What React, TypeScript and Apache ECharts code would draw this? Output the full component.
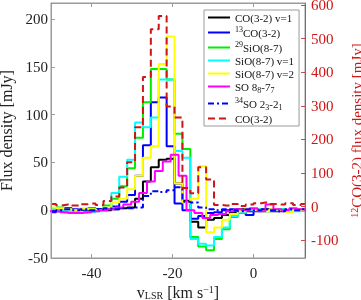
import React, { useEffect, useRef } from 'react';
import * as echarts from 'echarts';

// channel centres (km/s)
const velocity = [
  -49.73, -47.78, -45.83, -43.88, -41.93, -39.98, -38.03, -36.08, -34.13, -32.18, -30.23,
  -28.28, -26.33, -24.38, -22.43, -20.48, -18.53, -16.58, -14.63, -12.68, -10.73, -8.78,
  -6.83, -4.88, -2.93, -0.98, 0.98, 2.93, 4.88, 6.83, 8.78, 10.73, 12.68,
];
// SO 8_8-7_7 channel centres (shifted grid)
const velocitySO = [
  -50.68, -48.73, -46.78, -44.83, -42.88, -40.93, -38.98, -37.03, -35.08, -33.13, -31.18,
  -29.23, -27.28, -25.33, -23.38, -21.43, -19.48, -17.53, -15.58, -13.63, -11.68, -9.73,
  -7.78, -5.83, -3.88, -1.93, 0.03, 1.98, 3.93, 5.88, 7.83, 9.78, 11.73, 13.68,
];

const coV1 = [2, 1, 2, 0, 1, 0, 1, 0, 1, 2, 3, 12, 30, 45, 53, 54, 28, 10, -12, -18, -10, -8, -5, -2, 1, -1, 0, 1, -1, 1, 0, 1, 0];
const co13 = [-2, -1, -2, 1, 0, 2, 1, 2, 4, 9, 16, 36, 68, 113, 118, 67, 7, 0, -9, -6, -3, -2, 0, 1, -3, -5, -1, 0, 1, -1, 0, 1, 0];
const sio29 = [2, 3, 1, 0, 1, 2, 0, 5, 12, 25, 44, 76, 113, 148, 148, 137, 80, 64, -28, -38, -42, -30, -20, -7, -3, 0, 1, -1, 0, 1, -1, 0, 1];
const sioV1 = [1, 0, -1, -2, -3, -2, -1, 3, 18, 35, 53, 92, 87, 97, 137, 137, 62, 55, -30, -35, -37, -28, -18, -6, -2, 0, 1, -1, 0, 1, 0, -1, 1];
const sioV2 = [3, 2, 1, 0, 2, 1, 0, 3, 8, 12, 22, 36, 55, 67, 153, 182, 28, 8, 12, 46, -23, -18, -10, -4, -1, 2, 0, -1, 1, 0, -2, 1, 0];
const so88 = [-1, -1, -2, -3, -3, -2, -1, 0, 1, 3, 6, 9, 18, 30, 41, 51, 58, 36, 0, -3, -8, -5, -4, -1, 1, 0, 2, -1, 6, 1, 0, 2, 1, 0];
const so34 = [-1, 0, 1, 0, 1, 0, 1, 2, 1, 2, 2, 3, 15, 20, 19, 21, 24, 9, 8, 3, 1, 0, 1, 0, -1, 1, 0, 1, 0, -1, 1, 0, 1];
const co32 = [8, 4, 6, 3, 7, 9, 5, 17, 30, 57, 132, 236, 386, 528, 567, 298, 265, 55, 40, 117, 81, 5, 3, 8, 2, 6, 10, 12, 8, 6, 10, 5, 8];

const xTicks = [-40, -20, 0];
const leftTicks = [-50, 0, 50, 100, 150, 200];
const rightTicks = [-100, 0, 100, 200, 300, 400, 500, 600];

const seriesNames = [
  'CO(3-2) v=1',
  '13CO(3-2)',
  '29SiO(8-7)',
  'SiO(8-7) v=1',
  'SiO(8-7) v=2',
  'SO 8_8-7_7',
  '34SO 2_3-2_1',
  'CO(3-2)',
];
const legendLabels: Record<string, string> = {
  'CO(3-2) v=1': '{n|CO(3-2) v=1}',
  '13CO(3-2)': '{sup|13}{n|CO(3-2)}',
  '29SiO(8-7)': '{sup|29}{n|SiO(8-7)}',
  'SiO(8-7) v=1': '{n|SiO(8-7) v=1}',
  'SiO(8-7) v=2': '{n|SiO(8-7) v=2}',
  'SO 8_8-7_7': '{n|SO 8}{sub|8}{n|-7}{sub|7}',
  '34SO 2_3-2_1': '{sup|34}{n|SO 2}{sub|3}{n|-2}{sub|1}',
  'CO(3-2)': '{n|CO(3-2)}',
};

const FONT = 'Liberation Serif, Times New Roman, serif';
const GRAY = '#9a9a9a';
const RED = '#d01515';
const RED_AXIS = '#cc4a4a';

function pairs(xs: number[], ys: number[]) {
  return ys.map((y, i) => [xs[i], y]);
}

function lineSeries(name: string, xs: number[], ys: number[], color: string, type: any, yAxisIndex = 0) {
  return {
    name,
    type: 'line',
    step: 'middle',
    symbol: 'none',
    showSymbol: false,
    yAxisIndex,
    color,
    itemStyle: { color, opacity: 0 },
    lineStyle: { color, width: 2, type, opacity: 1 },
    data: pairs(xs, ys),
  };
}

export default function App() {
  const ref = useRef<HTMLDivElement>(null);
  useEffect(() => {
    const chart = echarts.init(ref.current!, null, { renderer: 'svg' });
    const option: any = {
      animation: false,
      grid: {
        left: 51,
        right: 56,
        top: 3,
        bottom: 42,
        show: true,
        borderColor: GRAY,
        borderWidth: 1,
        outerBoundsMode: 'none',
      },
      legend: {
        left: 204,
        top: 10,
        orient: 'vertical',
        itemWidth: 22,
        itemHeight: 10,
        itemGap: 2,
        padding: [2, 5, 2, 3],
        borderColor: GRAY,
        borderWidth: 1,
        backgroundColor: '#fff',
        selectedMode: false,
        data: seriesNames,
        itemStyle: { opacity: 0 },
        formatter: (name: string) => legendLabels[name] || name,
        textStyle: {
          fontFamily: FONT,
          fontSize: 11,
          color: '#111',
          rich: {
            n: { fontFamily: FONT, fontSize: 11, lineHeight: 15, color: '#111' },
            sup: { fontFamily: FONT, fontSize: 8, lineHeight: 8, verticalAlign: 'top', color: '#111' },
            sub: { fontFamily: FONT, fontSize: 8, lineHeight: 8, verticalAlign: 'bottom', color: '#111' },
          },
        },
      },
      xAxis: [
        {
          type: 'value',
          min: -50,
          max: 12.7,
          position: 'bottom',
          axisLine: { show: true, onZero: false, lineStyle: { color: GRAY, width: 1 } },
          axisTick: { show: true, inside: true, length: 4, customValues: xTicks, lineStyle: { color: GRAY } },
          axisLabel: { customValues: xTicks, margin: 7, fontFamily: FONT, fontSize: 15, color: '#222' },
          splitLine: { show: false },
          name: '{n|v}{sub|LSR}{n| [km s}{sup|−1}{n|]}',
          nameLocation: 'middle',
          nameGap: 24,
          nameTextStyle: {
            fontFamily: FONT,
            fontSize: 16,
            color: '#222',
            rich: {
              n: { fontFamily: FONT, fontSize: 16, lineHeight: 16, color: '#222' },
              sub: { fontFamily: FONT, fontSize: 10, lineHeight: 10, verticalAlign: 'bottom', color: '#222' },
              sup: { fontFamily: FONT, fontSize: 10, lineHeight: 10, verticalAlign: 'top', color: '#222' },
            },
          },
        },
        {
          type: 'value',
          min: -50,
          max: 12.7,
          position: 'top',
          axisLine: { show: true, onZero: false, lineStyle: { color: GRAY, width: 1 } },
          axisTick: { show: true, inside: true, length: 4, customValues: xTicks, lineStyle: { color: GRAY } },
          axisLabel: { show: false },
          splitLine: { show: false },
        },
      ],
      yAxis: [
        {
          type: 'value',
          min: -50,
          max: 217,
          position: 'left',
          axisLine: { show: true, onZero: false, lineStyle: { color: GRAY, width: 1 } },
          axisTick: { show: true, inside: true, length: 4, customValues: leftTicks, lineStyle: { color: GRAY } },
          axisLabel: { customValues: leftTicks, margin: 3, fontFamily: FONT, fontSize: 15, lineHeight: 12, color: '#222' },
          splitLine: { show: false },
          name: 'Flux density [mJy]',
          nameLocation: 'middle',
          nameRotate: 90,
          nameGap: 29,
          nameTextStyle: { fontFamily: FONT, fontSize: 16, lineHeight: 16, color: '#222' },
        },
        {
          type: 'value',
          min: -153,
          max: 606,
          position: 'right',
          axisLine: { show: true, onZero: false, lineStyle: { color: RED_AXIS, width: 1 } },
          axisTick: { show: true, inside: true, length: 4, customValues: rightTicks, lineStyle: { color: RED_AXIS } },
          axisLabel: { customValues: rightTicks, margin: 6, fontFamily: FONT, fontSize: 15, lineHeight: 10, color: RED },
          splitLine: { show: false },
          name: '{sup|12}{n|CO(3-2) flux density [mJy]}',
          nameLocation: 'middle',
          nameRotate: 90,
          nameGap: 33,
          nameTextStyle: {
            fontFamily: FONT,
            fontSize: 15,
            color: RED,
            rich: {
              n: { fontFamily: FONT, fontSize: 15, lineHeight: 15, color: RED },
              sup: { fontFamily: FONT, fontSize: 10, lineHeight: 10, verticalAlign: 'top', color: RED },
            },
          },
        },
      ],
      series: [
        lineSeries('CO(3-2) v=1', velocity, coV1, '#000000', 'solid'),
        lineSeries('13CO(3-2)', velocity, co13, '#0000ff', 'solid'),
        lineSeries('29SiO(8-7)', velocity, sio29, '#00ee00', 'solid'),
        lineSeries('SiO(8-7) v=1', velocity, sioV1, '#00ffff', 'solid'),
        lineSeries('SiO(8-7) v=2', velocity, sioV2, '#ffff00', 'solid'),
        lineSeries('SO 8_8-7_7', velocitySO, so88, '#ff00ff', 'solid'),
        lineSeries('34SO 2_3-2_1', velocity, so34, '#0000ff', [6, 3, 2, 3]),
        lineSeries('CO(3-2)', velocity, co32, RED, [7, 4], 1),
      ],
    };
    chart.setOption(option);
    return () => chart.dispose();
  }, []);
  return <div ref={ref} style={{ position: 'fixed', left: 0, top: 0, width: 361, height: 300 }} />;
}
